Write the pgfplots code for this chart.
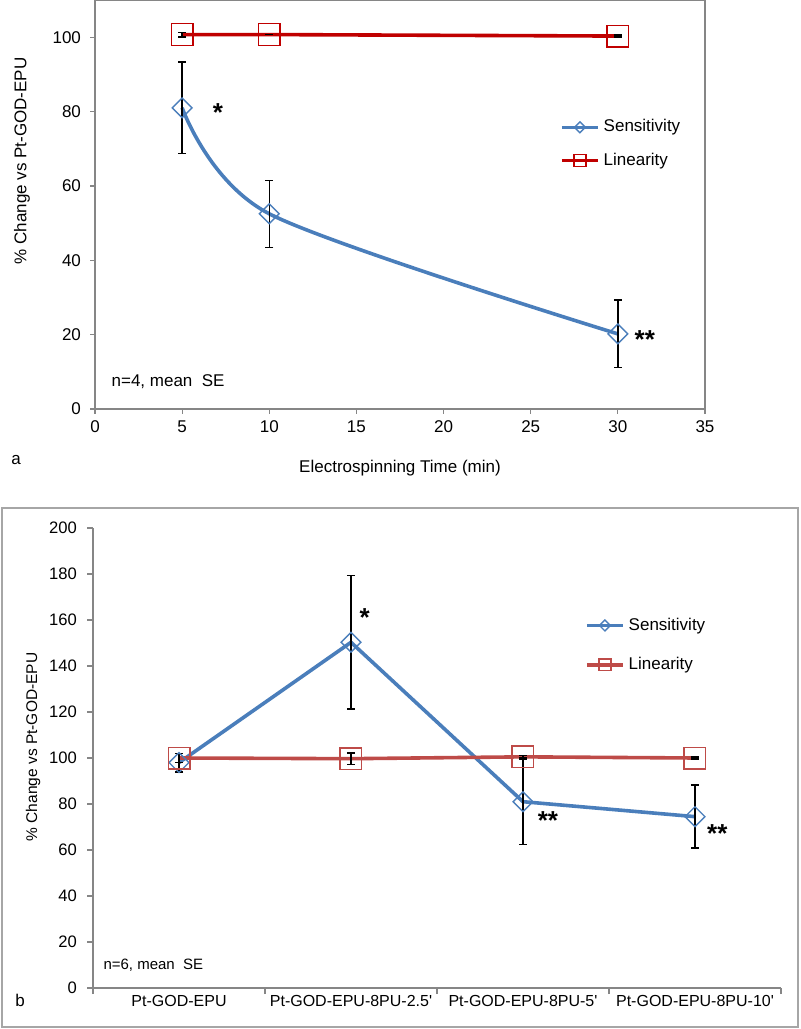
\documentclass[border=0pt]{standalone}
\usepackage{fontspec}
\setmainfont{Liberation Sans}
\usepackage{pgfplots}
\usepackage{pgfplotstable}
\pgfplotsset{compat=1.18}
\definecolor{sensblue}{HTML}{4A7EBB}
\definecolor{lindark}{HTML}{C00000}
\definecolor{linred}{HTML}{BE4B48}
\definecolor{axgray}{HTML}{868686}
\definecolor{boxgray}{HTML}{A6A6A6}

% panel a: electrospinning time
\pgfplotstableread{
x y e
5 81.0 12.3
10 52.5 9.0
30 20.2 9.1
}\sensA
\pgfplotstableread{
x y e
5 100.7 0.6
10 100.7 0.0
30 100.3 0.3
}\linA
% panel b: coatings
\pgfplotstableread{
x y e
1 98.0 4.0
2 150.3 29.0
3 81.0 18.5
4 74.5 13.7
}\sensB
\pgfplotstableread{
x y e
1 100.0 2.0
2 99.7 2.5
3 100.5 0.5
4 100.0 0.5
}\linB

\pgfplotsset{
  chartbase/.style={
    scale only axis,
    tick align=outside,
    major tick length=2.5pt,
    axis line style={axgray,line width=0.6pt},
    tick style={axgray,line width=0.6pt},
    /pgf/number format/assume math mode=true,
    legend cell align=left,
    legend style={draw=none,fill=none},
    legend image code/.code={\draw[mark repeat=2,mark phase=2,##1,every mark/.append style={scale=0.55}]
      plot coordinates {(0pt,0pt) (9pt,0pt) (18pt,0pt)};},
  },
  senstyle/.style={sensblue,line width=1.8pt,mark=square,
    mark size=3.5pt,mark options={rotate=45,draw=sensblue,fill=none,line width=0.7pt}},
  errstyle/.style={error bars/.cd,y dir=both,y explicit,
    error bar style={black,line width=0.7pt},
    error mark options={rotate=90,mark size=2pt,black,line width=0.7pt}},
}

\begin{document}
\begin{tikzpicture}
\useasboundingbox (0pt,0pt) rectangle (400pt,514.5pt);

% ---------- panel a ----------
\begin{axis}[chartbase,
  at={(47.5pt,310pt)},anchor=south west,
  width=305pt,height=204.5pt,
  xmin=0,xmax=35,ymin=0,ymax=110,
  xtick={0,5,...,35},ytick={0,20,...,100},
  tick pos=left,
  axis line style={axgray,line width=0.6pt},
  tick label style={font=\fontsize{8.5}{10}\selectfont},
  yticklabel style={xshift=-1pt},
  legend style={at={(0.752,0.728)},anchor=north west,
    font=\fontsize{8.5}{10}\selectfont,row sep=5pt},
]
\addplot[senstyle,smooth,tension=0.5,errstyle] table[x=x,y=y,y error=e] {\sensA};
\addplot[lindark,line width=1.8pt,mark=square,mark size=5.4pt,
  mark options={draw=lindark,fill=none,line width=0.7pt},errstyle]
  table[x=x,y=y,y error=e] {\linA};
\legend{Sensitivity,Linearity}
\node[font=\fontsize{13}{13}\selectfont\bfseries,anchor=base] at (axis cs:7.05,77.2) {*};
\node[font=\fontsize{13}{13}\selectfont\bfseries,anchor=base] at (axis cs:31.55,16.2) {**};
\node[font=\fontsize{8.5}{10}\selectfont,anchor=west] at (axis cs:0.55,7.3) {n=4, mean\ \ SE};
\end{axis}
\node[rotate=90,font=\fontsize{8.5}{10}\selectfont] at (11pt,434pt) {\% Change vs Pt-GOD-EPU};
\node[font=\fontsize{8.5}{10}\selectfont] at (200pt,280.5pt) {Electrospinning Time (min)};
\node[font=\fontsize{8.5}{10}\selectfont] at (8pt,284.5pt) {a};

% ---------- panel b ----------
\draw[boxgray,line width=0.6pt] (1pt,1pt) rectangle (399pt,260.5pt);
\begin{axis}[chartbase,
  at={(46.5pt,20.5pt)},anchor=south west,
  width=344pt,height=230pt,
  xmin=0.5,xmax=4.5,ymin=0,ymax=200,
  axis x line*=bottom,axis y line*=left,
  axis line style={-,axgray,line width=0.6pt},
  xtick={0.5,1.5,...,4.5},xticklabels={},
  major tick length=3pt,
  extra x ticks={1,2,3,4},
  extra x tick labels={Pt-GOD-EPU,Pt-GOD-EPU-8PU-2.5\textquotesingle,Pt-GOD-EPU-8PU-5\textquotesingle,Pt-GOD-EPU-8PU-10\textquotesingle},
  extra x tick style={major tick length=0pt},
  ytick={0,20,...,200},
  xticklabel style={font=\fontsize{8}{9.5}\selectfont},
  yticklabel style={font=\fontsize{8.3}{9.5}\selectfont,xshift=-1.5pt},
  legend style={at={(0.706,0.823)},anchor=north west,
    font=\fontsize{8.5}{10}\selectfont,row sep=8pt},
]
\addplot[senstyle,errstyle] table[x=x,y=y,y error=e] {\sensB};
\addplot[linred,line width=1.8pt,mark=square,mark size=5.4pt,
  mark options={draw=linred,fill=none,line width=0.7pt},errstyle]
  table[x=x,y=y,y error=e] {\linB};
\legend{Sensitivity,Linearity}
\node[font=\fontsize{13}{13}\selectfont\bfseries,anchor=base] at (axis cs:2.08,157.3) {*};
\node[font=\fontsize{13}{13}\selectfont\bfseries,anchor=base] at (axis cs:3.145,69) {**};
\node[font=\fontsize{13}{13}\selectfont\bfseries,anchor=base] at (axis cs:4.13,63.4) {**};
\node[font=\fontsize{7.5}{9}\selectfont,anchor=west] at (axis cs:0.52,10) {n=6, mean\ \ SE};
\end{axis}
\node[rotate=90,font=\fontsize{7.75}{9}\selectfont] at (16.5pt,141pt) {\% Change vs Pt-GOD-EPU};
\node[font=\fontsize{8.5}{10}\selectfont] at (10pt,14.5pt) {b};
\end{tikzpicture}
\end{document}
